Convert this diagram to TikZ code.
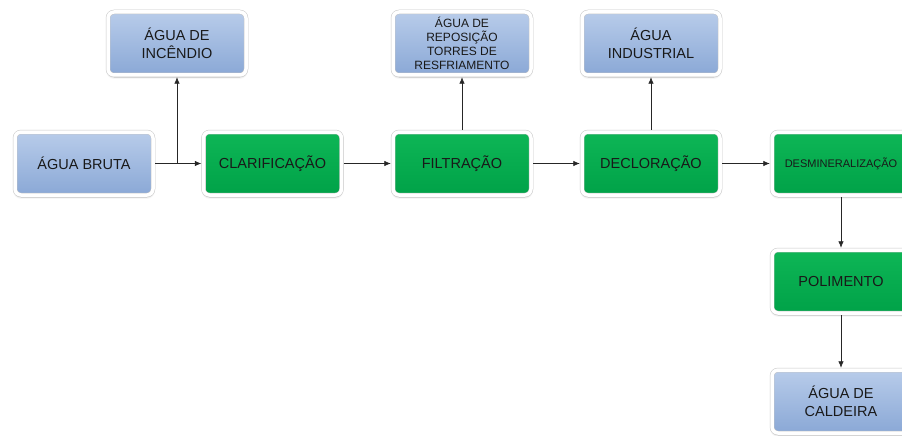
\documentclass[tikz,border=0pt]{standalone}
\usepackage{fontspec}
\setmainfont{Liberation Sans}
\usetikzlibrary{shadows.blur,arrows.meta}
\definecolor{bluetop}{RGB}{184,204,234}
\definecolor{bluebot}{RGB}{138,168,214}
\definecolor{greentop}{RGB}{14,182,86}
\definecolor{greenbot}{RGB}{0,162,72}
\tikzset{
  base/.style={rounded corners=6pt, draw=gray!45, line width=0.5pt, double=white, double distance=3.5pt,
    minimum width=138pt, minimum height=63pt, inner sep=2pt, align=center, outer sep=2.2pt,
    font=\fontsize{14.5}{17.5}\selectfont, text=black!90,
    blur shadow={shadow xshift=0pt, shadow yshift=-2pt, shadow blur steps=6, shadow opacity=25}},
  bluebox/.style={base, top color=bluetop, bottom color=bluebot},
  greenbox/.style={base, top color=greentop, bottom color=greenbot},
  conn/.style={draw=black!85, line width=0.7pt, -{Latex[length=6.5pt,width=5.5pt]}}
}
\begin{document}
\begin{tikzpicture}[x=1pt,y=-1pt]
\useasboundingbox (0,0) rectangle (902,436);
\clip (0,0) rectangle (902,436);
\node[bluebox] (inc) at (177,43.5) {ÁGUA DE\\INCÊNDIO};
\node[bluebox] (bruta) at (84,163.5) {ÁGUA BRUTA};
\node[greenbox] (clar) at (272.5,163.5) {CLARIFICAÇÃO};
\node[greenbox] (filt) at (462,163.5) {FILTRAÇÃO};
\node[bluebox, font=\fontsize{12}{13.8}\selectfont] (rep) at (462,43.5) {ÁGUA DE\\REPOSIÇÃO\\TORRES DE\\RESFRIAMENTO};
\node[greenbox] (decl) at (651,163.5) {DECLORAÇÃO};
\node[bluebox] (ind) at (651,43.5) {ÁGUA\\INDUSTRIAL};
\node[greenbox, font=\fontsize{11}{13}\selectfont] (desm) at (841,163.5) {DESMINERALIZAÇÃO};
\node[greenbox] (pol) at (841,281.5) {POLIMENTO};
\node[bluebox] (cald) at (841,401.5) {ÁGUA DE\\CALDEIRA};
\coordinate (j) at (177,163.5);
\draw[conn] (bruta) -- (clar);
\draw[conn] (j) -- (inc.south);
\draw[conn] (clar) -- (filt);
\draw[conn] (filt) -- (rep);
\draw[conn] (filt) -- (decl);
\draw[conn] (decl) -- (ind);
\draw[conn] (decl) -- (desm);
\draw[conn] (desm) -- (pol);
\draw[conn] (pol) -- (cald);
\end{tikzpicture}
\end{document}
